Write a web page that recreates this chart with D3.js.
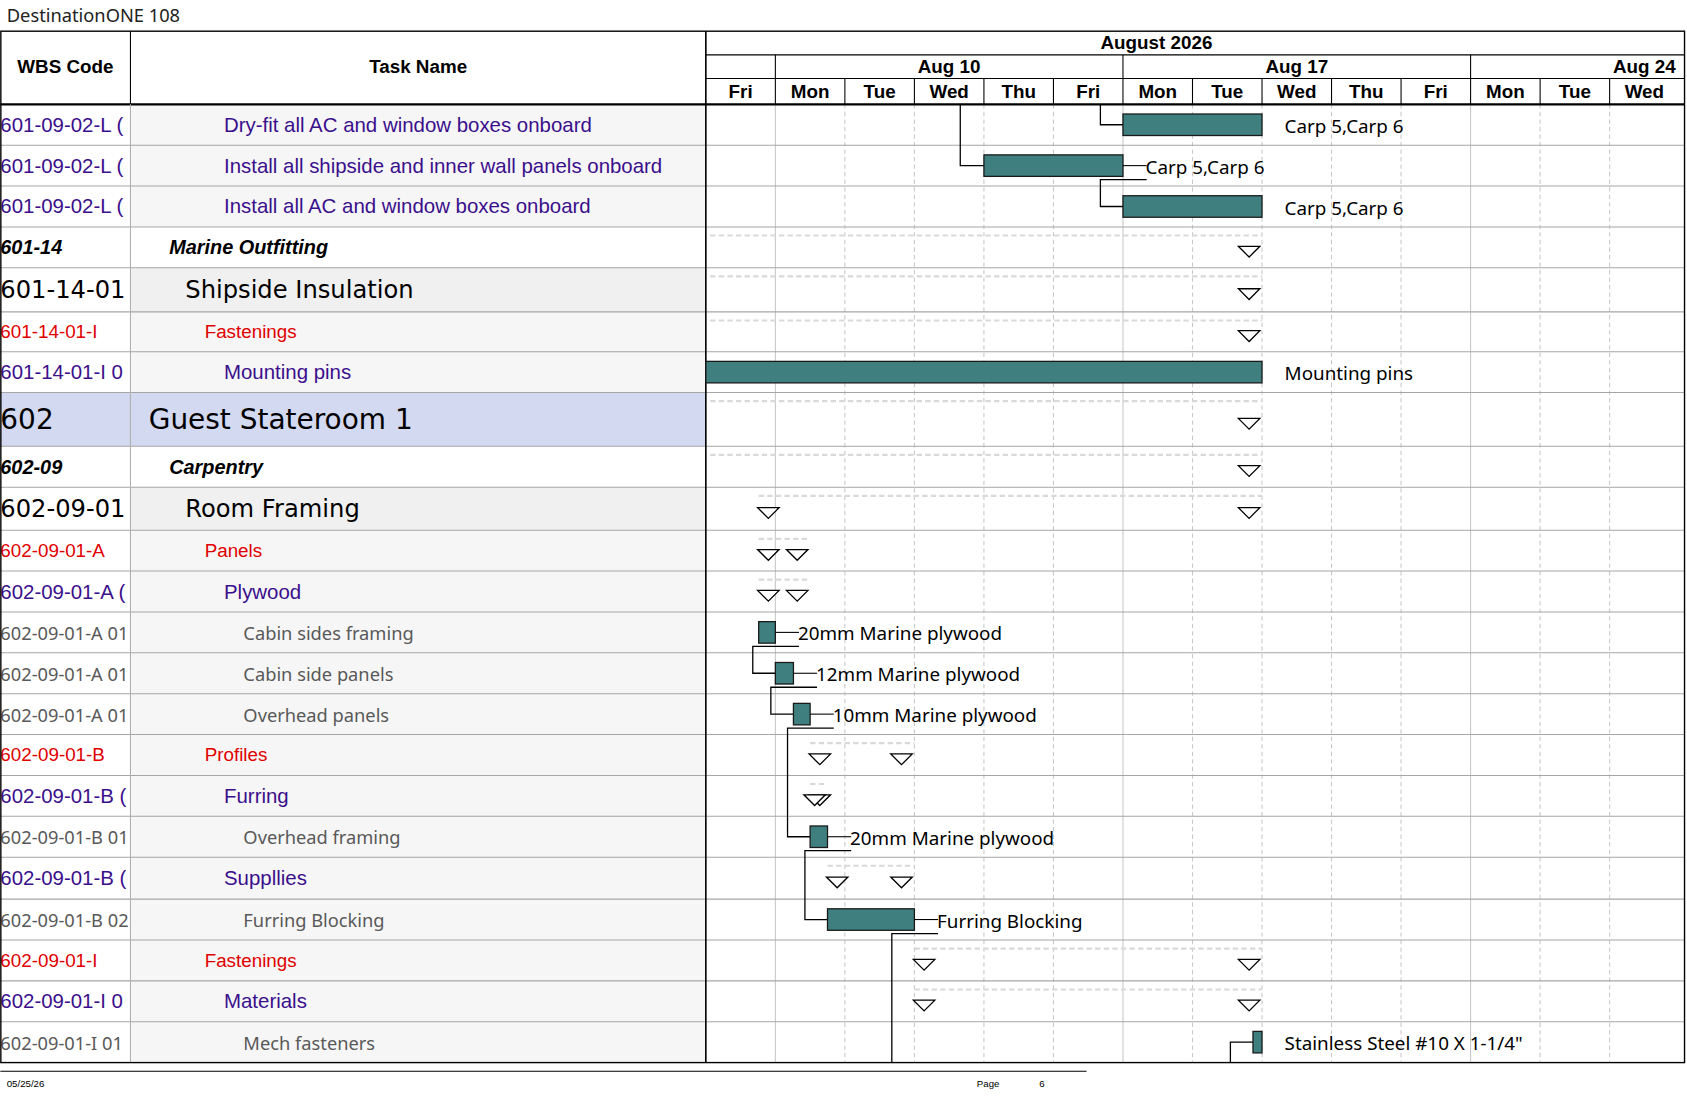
<!DOCTYPE html>
<html><head><meta charset="utf-8">
<script src="https://cdn.jsdelivr.net/npm/d3@7"></script>
<style>body{margin:0;background:#fff}svg{display:block}</style>
</head><body>
<svg id="chart" width="1687" height="1097" viewBox="0 0 1568 1020"></svg>
<script>
// day columns shown (weekends hidden), index = working day from Fri Aug 7
const days = ["Fri","Mon","Tue","Wed","Thu","Fri","Mon","Tue","Wed","Thu","Fri","Mon","Tue","Wed"];
const weeks = [{label:"Aug 10", start:1, end:6}, {label:"Aug 17", start:6, end:11}, {label:"Aug 24", start:11, end:16}];
const wbs = ["601-09-02-L (","601-09-02-L (","601-09-02-L (","601-14","601-14-01","601-14-01-I","601-14-01-I 0",
  "602","602-09","602-09-01","602-09-01-A","602-09-01-A (","602-09-01-A 01","602-09-01-A 01","602-09-01-A 01",
  "602-09-01-B","602-09-01-B (","602-09-01-B 01","602-09-01-B (","602-09-01-B 02","602-09-01-I","602-09-01-I 0","602-09-01-I 01"];
const names = ["Dry-fit all AC and window boxes onboard","Install all shipside and inner wall panels onboard","Install all AC and window boxes onboard",
  "Marine Outfitting","Shipside Insulation","Fastenings","Mounting pins","Guest Stateroom 1","Carpentry","Room Framing",
  "Panels","Plywood","Cabin sides framing","Cabin side panels","Overhead panels","Profiles","Furring","Overhead framing",
  "Suppllies","Furring Blocking","Fastenings","Materials","Mech fasteners"];
const levels = ["task","task","task","sum","big","red","task","top","sum","big","red","task","leaf","leaf","leaf",
  "red","task","leaf","task","leaf","red","task","leaf"];
const rowHeights = [38,38,38,38,41,37,38,50,38,40,38,38,38,38,38,38,38,38,39,38,38,38,38];
// bars: [row, start, end, label]
const bars = [[0,6,8,"Carp 5,Carp 6"],[1,4,6,"Carp 5,Carp 6"],[2,6,8,"Carp 5,Carp 6"],[6,-3,8,"Mounting pins"],
  [12,0.76,1,"20mm Marine plywood"],[13,1,1.26,"12mm Marine plywood"],[14,1.26,1.5,"10mm Marine plywood"],
  [17,1.5,1.75,"20mm Marine plywood"],[19,1.75,3,"Furring Blocking"],[22,7.87,8,"Stainless Steel #10 X 1-1/4\""]];
// summaries: [row, start, end]
const sums = [[3,-3,8],[4,-3,8],[5,-3,8],[7,-3,8],[8,-3,8],[9,0.76,8],[10,0.76,1.5],[11,0.76,1.5],
  [15,1.5,3],[16,1.5,1.75],[18,1.75,3],[20,3,8],[21,3,8]];
// links between bar rows: [from, to]
const links = [[1,2],[12,13],[13,14],[14,17],[17,19],[19,null]];

const styles = {
  task:{color:"#3b0f8c", size:19, font:"Liberation Sans, Arial", indent:208, bg:"#f6f6f6", weight:"normal", italic:false},
  sum:{color:"#000", size:18.5, font:"Liberation Sans, Arial", indent:157, bg:"#fff", weight:"bold", italic:true},
  big:{color:"#000", size:22.5, font:"DejaVu Sans", indent:172, bg:"#f0f0f0", weight:"normal", italic:false},
  top:{color:"#000", size:26, font:"DejaVu Sans", indent:138, bg:"#d3d9f0", weight:"normal", italic:false},
  red:{color:"#e00000", size:17.5, font:"Liberation Sans, Arial", indent:190, bg:"#f6f6f6", weight:"normal", italic:false},
  leaf:{color:"#595959", size:17, font:"Noto Sans", indent:226, bg:"#f6f6f6", weight:"normal", italic:false}
};

const svg = d3.select("#chart");
const tableTop = 29, headBottom = 97, colW = 121, colT = 656, right = 1566;
const x = d3.scaleLinear().domain([0, 14]).range([colT, 1561]);

// row bands
let acc = headBottom;
const rowY = rowHeights.map(h => { const y0 = acc; acc += h; return y0; });
const tableBottom = acc;
const yMid = i => rowY[i] + rowHeights[i] / 2;

svg.append("text").attr("x", 6).attr("y", 20).attr("font-family", "Noto Sans").attr("font-size", 17)
  .attr("fill", "#222").text("DestinationONE 108");

// cell backgrounds
rowHeights.forEach((h, i) => {
  const st = styles[levels[i]];
  if (levels[i] === "top") svg.append("rect").attr("x", 0).attr("y", rowY[i]).attr("width", colW).attr("height", h).attr("fill", st.bg);
  svg.append("rect").attr("x", colW).attr("y", rowY[i]).attr("width", colT - colW).attr("height", h).attr("fill", st.bg);
});

// gantt grid
const g = svg.append("g");
d3.range(1, 14).forEach(i => {
  const solid = weeks.some(w => w.start === i);
  g.append("line").attr("x1", x(i)).attr("x2", x(i)).attr("y1", headBottom).attr("y2", tableBottom)
    .attr("stroke", "#c8c8c8").attr("stroke-dasharray", solid ? null : "4,3");
});
rowHeights.forEach((h, i) => {
  svg.append("line").attr("x1", 0).attr("x2", right).attr("y1", rowY[i] + h).attr("y2", rowY[i] + h).attr("stroke", "#a6a6a6");
});

svg.append("clipPath").attr("id", "clipw").append("rect").attr("x", 0).attr("y", 0).attr("width", colW - 1).attr("height", 1020);
svg.append("clipPath").attr("id", "clipg").append("rect").attr("x", colT).attr("y", 0).attr("width", right - colT).attr("height", 1020);

// table text
rowHeights.forEach((h, i) => {
  const st = styles[levels[i]];
  const attrs = t => t.attr("font-family", st.font).attr("font-size", st.size).attr("fill", st.color)
    .attr("font-weight", st.weight).attr("font-style", st.italic ? "italic" : "normal").attr("dominant-baseline", "central");
  attrs(svg.append("text").attr("x", 0).attr("y", yMid(i)).attr("clip-path", "url(#clipw)").text(wbs[i]));
  attrs(svg.append("text").attr("x", st.indent).attr("y", yMid(i)).text(names[i]));
});

// header
const hdr = svg.append("g").attr("font-family", "Liberation Sans, Arial").attr("font-weight", "bold").attr("font-size", 17.5).attr("fill", "#000");
hdr.append("text").attr("x", colW / 2).attr("y", 68).attr("text-anchor", "middle").text("WBS Code");
hdr.append("text").attr("x", (colW + colT) / 2).attr("y", 68).attr("text-anchor", "middle").text("Task Name");
hdr.append("text").attr("x", 1075).attr("y", 46).attr("text-anchor", "middle").text("August 2026");
const hg = hdr.append("g").attr("clip-path", "url(#clipg)");
weeks.forEach(w => hg.append("text").attr("x", (x(w.start) + x(w.end)) / 2).attr("y", 68).attr("text-anchor", "middle").text(w.label));
days.forEach((d, i) => hdr.append("text").attr("x", x(i + 0.5)).attr("y", 91).attr("text-anchor", "middle").text(d));
const hl = (x1, y1, x2, y2, w) => svg.append("line").attr("x1", x1).attr("y1", y1).attr("x2", x2).attr("y2", y2).attr("stroke", "#000").attr("stroke-width", w || 1);
hl(colT, 51, right, 51); hl(colT, 73, right, 73);
weeks.forEach(w => hl(x(w.start), 51, x(w.start), 73));
d3.range(1, 14).forEach(i => hl(x(i), 73, x(i), 97));
hl(0, headBottom, right, headBottom, 2);
hl(colW, tableTop, colW, headBottom);
svg.append("line").attr("x1", colW).attr("x2", colW).attr("y1", headBottom).attr("y2", tableBottom).attr("stroke", "#b0b0b0");
hl(colT, tableTop, colT, tableBottom, 1.5);
svg.append("rect").attr("x", 0.5).attr("y", tableTop).attr("width", right - 0.5).attr("height", tableBottom - tableTop)
  .attr("fill", "none").attr("stroke", "#000").attr("stroke-width", 1.3);

// summaries: dashed line + triangles
const gs = svg.append("g").attr("clip-path", "url(#clipg)");
const tri = (cx, cy) => gs.append("path").attr("d", `M${cx - 10},${cy - 5}L${cx + 10},${cy - 5}L${cx},${cy + 5}Z`)
  .attr("fill", "#fff").attr("stroke", "#000").attr("stroke-width", 1.2);
sums.forEach(([r, s, e]) => {
  const x0 = Math.max(x(s), colT + 4);
  gs.append("line").attr("x1", x0).attr("x2", x(e)).attr("y1", rowY[r] + 8).attr("y2", rowY[r] + 8)
    .attr("stroke", "#d9d9d9").attr("stroke-width", 2).attr("stroke-dasharray", "5,3");
  if (x(s) > colT) tri(x(s) + 9, yMid(r) + 4);
  tri(x(e) - 12, yMid(r) + 4);
});

// links
const lk = svg.append("g").attr("fill", "none").attr("stroke", "#000").attr("stroke-width", 1.2);
const barOf = r => bars.find(b => b[0] === r);
links.forEach(([f, t]) => {
  const bf = barOf(f);
  const xa = x(bf[2]) + 22, yb = yMid(f) + 13;
  if (t === null) {
    const xs = x(bf[2]) - 21;
    lk.append("path").attr("d", `M${xa},${yb}H${xs}V${tableBottom}`);
    return;
  }
  const bt = barOf(t);
  const xs = x(bt[1]) - 21;
  lk.append("path").attr("d", `M${xa},${yb}H${xs}V${yMid(t)}H${x(bt[1])}`);
});
// incoming links from outside the view
lk.append("path").attr("d", `M${x(6) - 21},${headBottom}V${yMid(0)}H${x(6)}`);
lk.append("path").attr("d", `M${x(4) - 22},${headBottom}V${yMid(1)}H${x(4)}`);
lk.append("path").attr("d", `M${x(7.87) - 21},${tableBottom}V${yMid(22)}H${x(7.87)}`);

// bars
const gb = svg.append("g");
bars.forEach(([r, s, e, lab]) => {
  const x0 = Math.max(x(s), colT);
  gb.append("rect").attr("x", x0).attr("y", yMid(r) - 10).attr("width", x(e) - x0).attr("height", 20)
    .attr("fill", "#3f7f7f").attr("stroke", "#1a1a1a").attr("stroke-width", 1.2);
  if (links.some(l => l[0] === r)) gb.append("line").attr("x1", x(e)).attr("x2", x(e) + 22).attr("y1", yMid(r)).attr("y2", yMid(r)).attr("stroke", "#000");
  gb.append("text").attr("x", x(e) + 21).attr("y", yMid(r) + 1).attr("dominant-baseline", "central")
    .attr("font-family", "Noto Sans").attr("font-size", 17.5).attr("fill", "#000").text(lab);
});

// footer
svg.append("line").attr("x1", 0).attr("x2", 1010).attr("y1", 996).attr("y2", 996).attr("stroke", "#000");
const ft = svg.append("g").attr("font-family", "Liberation Sans, Arial").attr("font-size", 9).attr("fill", "#000");
ft.append("text").attr("x", 6).attr("y", 1011).text("05/25/26");
ft.append("text").attr("x", 908).attr("y", 1011).text("Page");
ft.append("text").attr("x", 966).attr("y", 1011).text("6");
</script>
</body></html>
